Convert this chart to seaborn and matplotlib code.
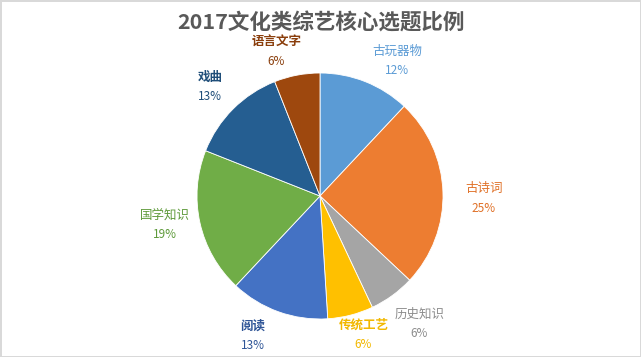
import numpy as np
import seaborn as sns
import matplotlib.pyplot as plt

sns.set_theme(style="white")
plt.rcParams['font.family'] = ['Noto Sans CJK SC', 'DejaVu Sans']

# data (clockwise from 12 o'clock)
topics = ["古玩器物", "古诗词", "历史知识", "传统工艺", "阅读", "国学知识", "戏曲", "语言文字"]
shares = [12, 25, 6, 6, 13, 19, 13, 6]

slice_colors = sns.color_palette(["#5B9BD5", "#ED7D31", "#A5A5A5", "#FFC000",
                                  "#4472C4", "#70AD47", "#255E91", "#9E480E"])
label_colors = ["#5B9BD5", "#E07128", "#8C8C8C", "#F2B800",
                "#2F5597", "#5E9A3A", "#1F4E79", "#8A3E0C"]
# label placement tweaks (radius factor, angle shift in degrees)
label_dist = [1.27, 1.33, 1.31, 1.18, 1.26, 1.28, 1.26, 1.23]
label_shift = [-8, -2.5, 2, 3, -6, -2.4, 0, 6]
name_bold = [False, False, False, True, True, False, True, True]

fig = plt.figure(figsize=(6.41, 3.57), dpi=100)
fig.patch.set_facecolor("white")
fig.patch.set_edgecolor("#d9d9d9")
fig.patch.set_linewidth(2)

ax = fig.add_axes([0, 0, 1, 1])
cx, cy, R = 320, 161, 123
wedges, _ = ax.pie(shares, colors=slice_colors, startangle=90, counterclock=False,
                   radius=R, center=(cx, cy),
                   wedgeprops=dict(edgecolor="white", linewidth=0.6))
ax.set_xlim(0, 641)
ax.set_ylim(0, 357)
ax.set_aspect("equal")
ax.axis("off")

for w, name, val, col, d, s, b in zip(wedges, topics, shares, label_colors,
                                      label_dist, label_shift, name_bold):
    mid = np.deg2rad((w.theta1 + w.theta2) / 2 + s)
    x = cx + d * R * np.cos(mid)
    y = cy + d * R * np.sin(mid)
    ax.annotate(name, (x, y), xytext=(0, 6.5), textcoords="offset points",
                ha="center", va="center", fontsize=9, color=col,
                fontweight="bold" if b else "normal")
    ax.annotate(f"{val}%", (x, y), xytext=(0, -7.5), textcoords="offset points",
                ha="center", va="center", fontsize=8.5, color=col)

fig.text(0.5, 1 - 23 / 357, "2017文化类综艺核心选题比例", ha="center", va="center",
         fontsize=15.5, fontweight="bold", color="#595959")

plt.savefig("out.png", dpi=100)
